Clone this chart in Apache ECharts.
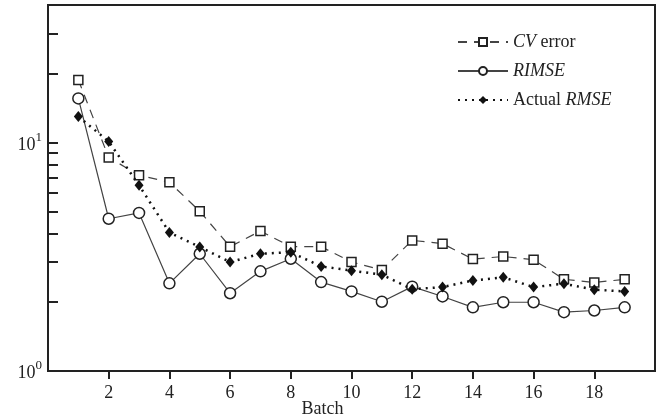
<!DOCTYPE html>
<html>
<head>
<meta charset="utf-8">
<script src="https://cdn.jsdelivr.net/npm/echarts@6/dist/echarts.min.js"></script>
<style>
  html, body { margin: 0; padding: 0; background: #fff; }
  #chart { width: 657px; height: 419px; }
</style>
</head>
<body>
<div id="chart"></div>
<script>
  var batches = [1, 2, 3, 4, 5, 6, 7, 8, 9, 10, 11, 12, 13, 14, 15, 16, 17, 18, 19];
  var cvError = [18.8, 8.6, 7.2, 6.7, 5.0, 3.5, 4.1, 3.5, 3.5, 3.0, 2.77, 3.73, 3.61, 3.09, 3.17, 3.07, 2.52, 2.44, 2.52];
  var rimse = [15.6, 4.64, 4.92, 2.42, 3.26, 2.19, 2.73, 3.1, 2.45, 2.23, 2.01, 2.34, 2.12, 1.9, 2.0, 2.0, 1.81, 1.84, 1.9];
  var actualRmse = [13.0, 10.1, 6.5, 4.04, 3.49, 3.0, 3.26, 3.31, 2.87, 2.75, 2.64, 2.28, 2.33, 2.49, 2.57, 2.33, 2.41, 2.27, 2.23];
  var xTicks = [2, 4, 6, 8, 10, 12, 14, 16, 18];
  var yTicks = [2, 3, 4, 5, 6, 7, 8, 9, 10, 20, 30];
  var yLabels = [1, 10];

  function pairs(vals) {
    return vals.map(function (v, i) {
      return [batches[i], v];
    });
  }

  var font = "Liberation Serif";
  var charts = echarts.init(document.getElementById("chart"));
  var option = {
    backgroundColor: "#fff",
    animation: false,
    grid: {
      left: 48,
      right: 2,
      top: 5,
      bottom: 48,
      outerBoundsMode: "none",
      containLabel: false,
      show: true,
      borderColor: "#222",
      borderWidth: 2,
      backgroundColor: "transparent",
    },
    legend: {
      orient: "vertical",
      left: 452,
      top: 27,
      itemWidth: 50,
      itemHeight: 10,
      itemGap: 9,
      textStyle: {
        fontFamily: font,
        fontSize: 18,
        lineHeight: 20,
        color: "#222",
        rich: {
          i: { fontFamily: font, fontSize: 18, fontStyle: "italic", color: "#222" },
        },
      },
      formatter: function (name) {
        if (name === "CV error") return "{i|CV} error";
        if (name === "RIMSE") return "{i|RIMSE}";
        return "Actual {i|RMSE}";
      },
      data: ["CV error", "RIMSE", "Actual RMSE"],
    },
    xAxis: {
      type: "value",
      min: 0,
      max: 20,
      interval: 2,
      name: "Batch",
      nameLocation: "middle",
      nameMoveOverlap: false,
      nameGap: 29,
      nameTextStyle: {
        fontFamily: font,
        fontSize: 18,
        lineHeight: 18,
        color: "#222",
        padding: [0, 58, 0, 0],
      },
      splitLine: { show: false },
      axisLine: { show: true, lineStyle: { color: "#222", width: 2 } },
      axisTick: {
        show: true,
        inside: false,
        length: 8,
        customValues: xTicks,
        lineStyle: { color: "#222", width: 2 },
      },
      axisLabel: {
        customValues: xTicks,
        margin: 13,
        fontFamily: font,
        fontSize: 18,
        color: "#222",
      },
    },
    yAxis: {
      type: "log",
      logBase: 10,
      min: 1,
      max: 40,
      splitLine: { show: false },
      axisLine: { show: true, lineStyle: { color: "#222", width: 2 } },
      axisTick: {
        show: true,
        inside: true,
        length: 10,
        customValues: yTicks,
        lineStyle: { color: "#222", width: 2 },
      },
      minorTick: { show: false },
      axisLabel: {
        customValues: yLabels,
        margin: 6,
        formatter: function (v) {
          return "{b|10}{s|" + Math.round(Math.log10(v)) + "}";
        },
        rich: {
          b: { fontFamily: font, fontSize: 18, color: "#222", verticalAlign: "bottom" },
          s: { fontFamily: font, fontSize: 13, color: "#222", padding: [0, 0, 10, 0] },
        },
      },
    },
    series: [
      {
        name: "CV error",
        type: "line",
        data: pairs(cvError),
        symbol: "rect",
        symbolSize: 9,
        lineStyle: { color: "#444", width: 1.2, type: [9, 7] },
        itemStyle: { color: "#fff", borderColor: "#222", borderWidth: 1.5 },
        z: 3,
      },
      {
        name: "RIMSE",
        type: "line",
        data: pairs(rimse),
        symbol: "circle",
        symbolSize: 11,
        lineStyle: { color: "#444", width: 1.2 },
        itemStyle: { color: "#fff", borderColor: "#222", borderWidth: 1.5 },
        z: 2,
      },
      {
        name: "Actual RMSE",
        type: "line",
        data: pairs(actualRmse),
        symbol: "diamond",
        symbolSize: [9, 11],
        lineStyle: { color: "#111", width: 2.5, type: [2, 5] },
        itemStyle: { color: "#111", borderColor: "#111", borderWidth: 0 },
        z: 4,
      },
    ],
  };
  charts.setOption(option);
</script>
</body>
</html>
